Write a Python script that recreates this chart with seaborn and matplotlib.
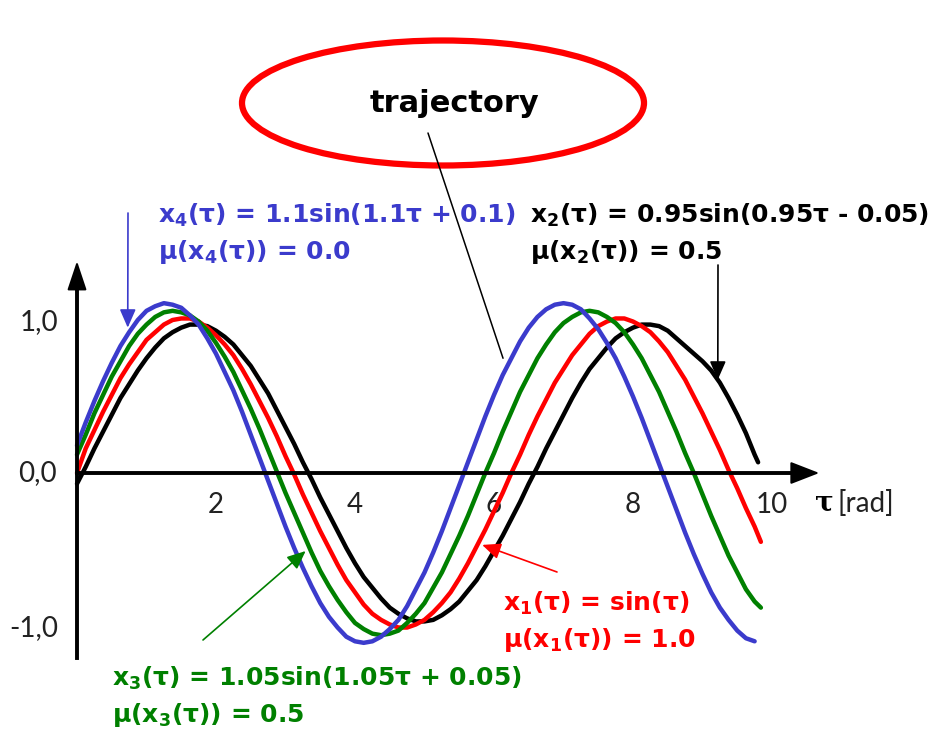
import numpy as np
import pandas as pd
import matplotlib
matplotlib.use("Agg")
import matplotlib.pyplot as plt
from matplotlib.patches import Ellipse
import seaborn as sns

# sample positions (rad), every 0.125, and the values
tau = list(np.arange(0, 9.76, 0.125))

x1 = [0.00, 0.16, 0.28, 0.40, 0.51, 0.62, 0.71, 0.79, 0.87, 0.92,
      0.97, 1.00, 1.01, 1.01, 0.99, 0.95, 0.90, 0.84, 0.77, 0.68,
      0.58, 0.47, 0.36, 0.24, 0.11, -0.01, -0.14, -0.26, -0.38, -0.49,
      -0.60, -0.70, -0.78, -0.86, -0.92, -0.96, -0.99, -1.01, -1.01, -0.99,
      -0.96, -0.91, -0.85, -0.78, -0.69, -0.59, -0.48, -0.37, -0.25, -0.13,
      0.00, 0.12, 0.25, 0.37, 0.48, 0.59, 0.68, 0.77, 0.84, 0.91,
      0.96, 0.99, 1.01, 1.01, 0.99, 0.96, 0.92, 0.86, 0.79, 0.70,
      0.61, 0.50, 0.39, 0.27, 0.15, 0.02, -0.10, -0.23, -0.35]
x1_end = (9.84, -0.45)

x2 = [-0.07, 0.04, 0.16, 0.27, 0.38, 0.49, 0.58, 0.67, 0.75, 0.82,
      0.88, 0.92, 0.95, 0.97, 0.97, 0.96, 0.93, 0.89, 0.84, 0.77,
      0.70, 0.61, 0.52, 0.41, 0.30, 0.19, 0.07, -0.04, -0.16, -0.27,
      -0.38, -0.49, -0.59, -0.68, -0.75, -0.82, -0.88, -0.92, -0.95, -0.97,
      -0.97, -0.96, -0.93, -0.89, -0.84, -0.77, -0.70, -0.61, -0.51, -0.41,
      -0.30, -0.19, -0.07, 0.04, 0.16, 0.27, 0.38, 0.49, 0.59, 0.68,
      0.75, 0.82, 0.88, 0.92, 0.95, 0.97, 0.97, 0.96, 0.93, 0.88,
      0.83, 0.78, 0.73, 0.67, 0.59, 0.49, 0.38, 0.26, 0.12]
x2_end = (9.80, 0.07)

x3 = [0.12, 0.25, 0.39, 0.51, 0.63, 0.73, 0.83, 0.91, 0.97, 1.02,
      1.05, 1.06, 1.05, 1.03, 0.99, 0.93, 0.85, 0.76, 0.66, 0.54,
      0.42, 0.29, 0.15, 0.01, -0.13, -0.26, -0.39, -0.52, -0.64, -0.74,
      -0.83, -0.91, -0.98, -1.02, -1.05, -1.06, -1.05, -1.03, -0.98, -0.92,
      -0.85, -0.75, -0.65, -0.53, -0.41, -0.28, -0.14, 0.00, 0.13, 0.27,
      0.40, 0.53, 0.64, 0.75, 0.84, 0.92, 0.98, 1.02, 1.05, 1.06,
      1.05, 1.02, 0.98, 0.92, 0.84, 0.75, 0.64, 0.53, 0.40, 0.27,
      0.13, 0.00, -0.14, -0.28, -0.41, -0.54, -0.65, -0.76, -0.84]
x3_end = (9.84, -0.88)

x4 = [0.18, 0.33, 0.47, 0.60, 0.72, 0.83, 0.92, 1.00, 1.06, 1.09,
      1.11, 1.10, 1.08, 1.03, 0.97, 0.88, 0.78, 0.66, 0.54, 0.40,
      0.25, 0.10, -0.05, -0.20, -0.35, -0.49, -0.62, -0.74, -0.85, -0.94,
      -1.01, -1.07, -1.10, -1.11, -1.10, -1.07, -1.02, -0.96, -0.87, -0.76,
      -0.65, -0.52, -0.38, -0.23, -0.08, 0.07, 0.22, 0.37, 0.51, 0.64,
      0.75, 0.86, 0.95, 1.02, 1.07, 1.10, 1.11, 1.10, 1.07, 1.01,
      0.94, 0.85, 0.75, 0.63, 0.50, 0.36, 0.21, 0.06, -0.09, -0.24,
      -0.39, -0.53, -0.66, -0.78, -0.88, -0.96, -1.03, -1.08, -1.10]

colors = {"x2": "black", "x1": "#ff0000", "x3": "#008000", "x4": "#3b3bcc"}

rows = []
for name, vals, end in [("x2", x2, x2_end), ("x1", x1, x1_end), ("x3", x3, x3_end), ("x4", x4, None)]:
    xs = tau + ([end[0]] if end else [])
    ys = vals + ([end[1]] if end else [])
    rows += [{"curve": name, "tau": t, "value": v} for t, v in zip(xs, ys)]
df = pd.DataFrame(rows)

sns.set_style("white")
plt.rcParams['font.family'] = ['Lato', 'DejaVu Sans']
# subscripts via mathtext, drawn in bold DejaVu Sans
plt.rcParams['mathtext.fontset'] = 'custom'
plt.rcParams['mathtext.rm'] = 'DejaVu Sans:bold'
plt.rcParams['mathtext.it'] = 'DejaVu Sans:bold'
plt.rcParams['mathtext.bf'] = 'DejaVu Sans:bold'
plt.rcParams['mathtext.default'] = 'rm'

W, H = 940, 733
fig = plt.figure(figsize=(W / 100, H / 100), dpi=100)
ax = fig.add_axes([0, 0, 1, 1])
# pixel scale of the reference: origin at (77, 473), 69.5 px per rad, 153 px per unit
ax.set_xlim(-77 / 69.5, (W - 77) / 69.5)
ax.set_ylim((473 - H) / 153, 473 / 153)


def P(x, y):
    return (x / W, 1 - y / H)


sns.lineplot(data=df, x="tau", y="value", hue="curve", hue_order=["x2", "x1", "x3", "x4"],
             palette=colors, linewidth=3.2, legend=False, sort=False, estimator=None, ax=ax)

# axes through the origin
for s in ["top", "right"]:
    ax.spines[s].set_visible(False)
ax.spines["left"].set_position(("data", 0))
ax.spines["bottom"].set_position(("data", 0))
ax.spines["left"].set_bounds(-1.21, 1.25)
ax.spines["bottom"].set_bounds(0, 10.35)
for s in ["left", "bottom"]:
    ax.spines[s].set_linewidth(2.8)
    ax.spines[s].set_color("black")
ax.annotate("", xy=(0, 1.385), xytext=(0, 1.1),
            arrowprops=dict(arrowstyle="-|>,head_length=0.9,head_width=0.3", color="black",
                            lw=1.5, mutation_scale=20, shrinkA=0, shrinkB=0))
ax.annotate("", xy=(10.68, 0), xytext=(10.2, 0),
            arrowprops=dict(arrowstyle="-|>,head_length=0.9,head_width=0.35", color="black",
                            lw=1.5, mutation_scale=20, shrinkA=0, shrinkB=0))

ax.set_xticks(range(1, 11), ["", "2", "", "4", "", "6", "", "8", "", "10"])
ax.set_yticks([-1, -0.5, 0.5, 1], ["-1,0", "", "", "1,0"])
ax.tick_params(direction="inout", length=15, width=2.2, color="black", labelsize=20,
               labelcolor="#222222", pad=6)
ax.set_xlabel("")
ax.set_ylabel("")
ax.text(*P(37, 473), "0,0", transform=ax.transAxes, ha="center", va="center",
        fontsize=20, color="#222222")
ax.text(*P(815, 503), "τ", transform=ax.transAxes, ha="left", va="center",
        fontsize=20, fontweight="bold", family=["DejaVu Serif"], color="black")
ax.text(*P(838, 503), "[rad]", transform=ax.transAxes, ha="left", va="center",
        fontsize=20, color="#222222")

# "trajectory" bubble
ax.add_patch(Ellipse(P(443, 103), 402 / W, 125 / H, transform=ax.transAxes,
                     fill=False, edgecolor="#ff0000", lw=4.5))
ax.text(*P(455, 104), "trajectory", transform=ax.transAxes, ha="center", va="center",
        fontsize=22, fontweight="bold", family=["DejaVu Sans"], color="black")
ax.annotate("", xy=(6.13, 0.75), xycoords="data", xytext=P(428, 133), textcoords="axes fraction",
            arrowprops=dict(arrowstyle="-", color="black", lw=1.1, shrinkA=0, shrinkB=0))

# labels with arrows
labels = [
    ("$x_4$(τ) = 1.1sin(1.1τ + 0.1)", "μ($x_4$(τ)) = 0.0", (158, 215), colors["x4"], (128, 213), (0.73, 0.95)),
    ("$x_2$(τ) = 0.95sin(0.95τ - 0.05)", "μ($x_2$(τ)) = 0.5", (530, 215), colors["x2"], (718, 265), (9.22, 0.61)),
    ("$x_1$(τ) = sin(τ)", "μ($x_1$(τ)) = 1.0", (503, 603), colors["x1"], (557, 572), (5.83, -0.47)),
    ("$x_3$(τ) = 1.05sin(1.05τ + 0.05)", "μ($x_3$(τ)) = 0.5", (112, 678), colors["x3"], (203, 640), (3.29, -0.51)),
]
for line1, line2, (tx, ty), c, start, tip in labels:
    ax.text(*P(tx, ty), line1, transform=ax.transAxes, ha="left", va="center",
            fontsize=18, fontweight="bold", color=c, family=["DejaVu Sans"])
    ax.text(*P(tx, ty + 37), line2, transform=ax.transAxes, ha="left", va="center",
            fontsize=18, fontweight="bold", color=c, family=["DejaVu Sans"])
    ax.annotate("", xy=tip, xycoords="data", xytext=P(*start), textcoords="axes fraction",
                arrowprops=dict(arrowstyle="-|>,head_length=0.8,head_width=0.35", color=c,
                                lw=1.2, mutation_scale=14, shrinkA=0, shrinkB=0))

fig.savefig("out.png", dpi=100)
